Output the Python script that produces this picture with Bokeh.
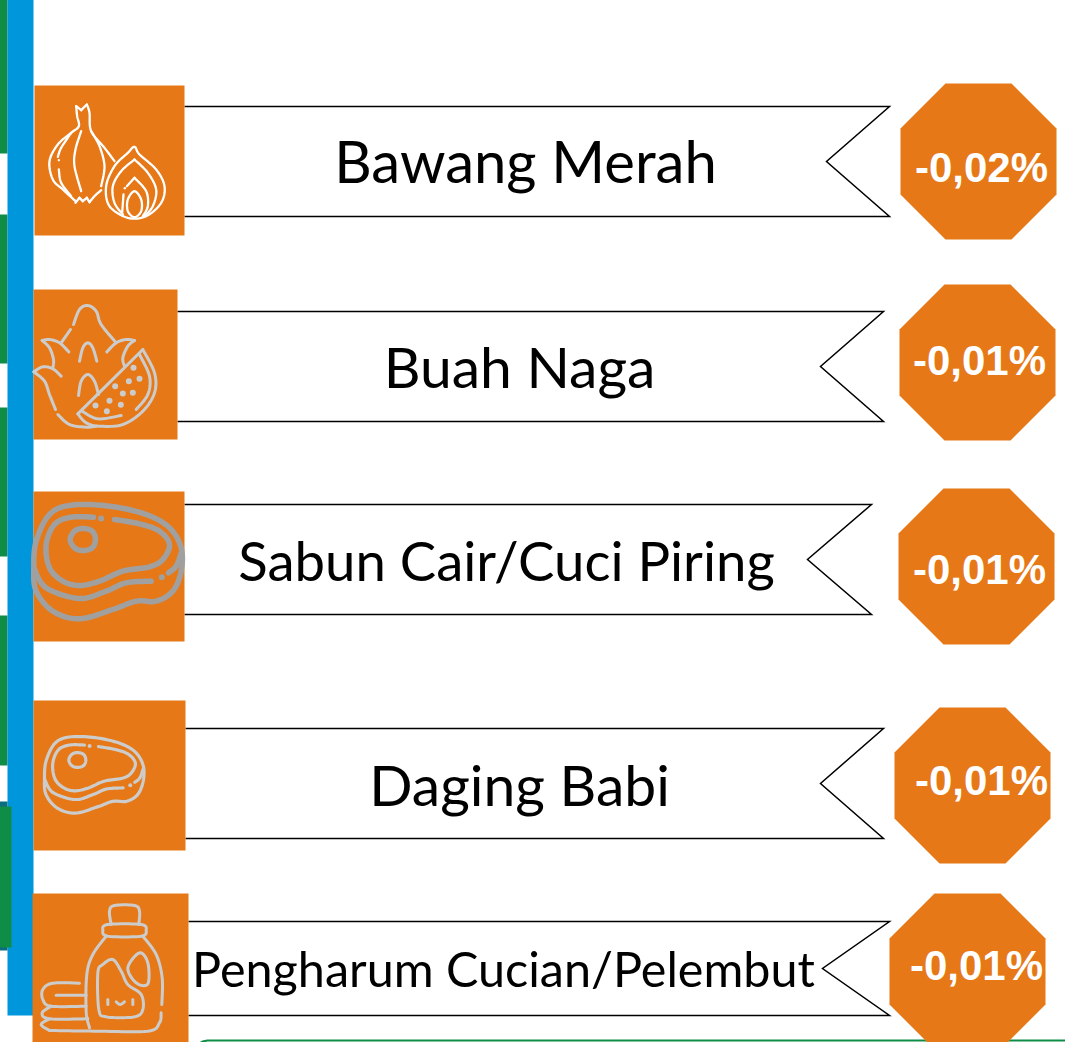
from bokeh.plotting import figure
from bokeh.embed import file_html
from bokeh.resources import INLINE
from bokeh.core.properties import value

categories = ["Bawang Merah", "Buah Naga", "Sabun Cair/Cuci Piring", "Daging Babi", "Pengharum Cucian/Pelembut"]
percent_labels = ["-0,02%", "-0,01%", "-0,01%", "-0,01%", "-0,01%"]

ORANGE = "#E67817"
BLUE = "#0096DC"
GREEN = "#0F8C46"
TEAL = "#0B6E7E"

W, H = 1066, 1043
p = figure(width=W, height=H, x_range=(0, W), y_range=(H, 0), output_backend="svg",
           toolbar_location=None, min_border=0, outline_line_color=None,
           background_fill_color="white", border_fill_color="white")
p.margin = (-1, -1, -1, -1)
p.axis.visible = False
p.grid.visible = False


def rect(x0, y0, x1, y1, c):
    p.quad(left=x0, right=x1, top=y0, bottom=y1, fill_color=c, line_color=None)


def smooth(pts, n=10):
    if len(pts) < 3:
        return [q[0] for q in pts], [q[1] for q in pts]
    closed = pts[0] == pts[-1]
    P = ([pts[-2]] + pts + [pts[1]]) if closed else ([pts[0]] + pts + [pts[-1]])
    xs, ys = [], []
    for i in range(1, len(P) - 2):
        a, b, c, d = P[i - 1], P[i], P[i + 1], P[i + 2]
        for k in range(n):
            t = k / n
            f = lambda u: 0.5 * (2 * b[u] + (c[u] - a[u]) * t + (2 * a[u] - 5 * b[u] + 4 * c[u] - d[u]) * t * t
                                 + (3 * b[u] - a[u] - 3 * c[u] + d[u]) * t ** 3)
            xs.append(f(0))
            ys.append(f(1))
    xs.append(pts[-1][0])
    ys.append(pts[-1][1])
    return xs, ys


def icon(paths, dots, ox, oy, s, sx, sy, color, lw, dot_r):
    """paths are given in crop-pixel units of the icon sketch"""
    X, Y = [], []
    for path in paths:
        xs, ys = smooth(path)
        X.append([ox + (x - sx) * s for x in xs])
        Y.append([oy + (y - sy) * s for y in ys])
    p.multi_line(X, Y, line_color=color, line_width=lw, line_cap="round", line_join="round")
    if dots:
        p.circle([ox + (d[0] - sx) * s for d in dots], [oy + (d[1] - sy) * s for d in dots],
                 radius=dot_r, fill_color=color, line_color=None)


# left strips
for y0, y1 in [(0, 154), (215, 364), (408, 557), (616, 766)]:
    rect(0, y0, 8, y1, GREEN)
rect(8, 0, 34, 1016, BLUE)
rect(0, 802, 8, 951, TEAL)
rect(0, 807, 12, 948, GREEN)

# green frame at the foot
p.line([200, 203, 208, 215, 1066], [1044, 1042, 1041, 1041, 1041], line_color=GREEN, line_width=2)

# ribbons
ribbon_x0 = [185, 178, 185, 186, 189]
ribbon_x1 = [890, 884, 872, 884, 890]
ribbon_notch = [827, 821, 808, 821, 823]
ribbon_top = [107, 312, 505, 729, 922]
ribbon_bot = [217, 422, 615, 839, 1016]
for x0, x1, n, t, b in zip(ribbon_x0, ribbon_x1, ribbon_notch, ribbon_top, ribbon_bot):
    p.patch([x0, x1, n, x1, x0], [t, t, (t + b) / 2, b, b], fill_color="white", line_color=None)
    p.line([x0, x1, n, x1, x0], [t, t, (t + b) / 2, b, b], line_color="black", line_width=1.5, line_join="miter")

# icon boxes
box_x0 = [35, 34, 34, 34, 33]
box_x1 = [185, 178, 185, 186, 189]
box_y0 = [86, 290, 492, 701, 894]
box_y1 = [236, 440, 642, 851, 1044]
for a, b, c, d in zip(box_x0, box_x1, box_y0, box_y1):
    rect(a, c, b, d, ORANGE)

# onion
onion = [
    [(230, 110), (233, 140), (238, 170), (215, 190), (175, 225), (150, 275), (160, 330), (190, 360), (228, 395)],
    [(230, 110), (245, 122)], [(245, 122), (262, 105)], [(262, 105), (270, 130), (275, 185), (315, 235), (345, 275)],
    [(275, 185), (300, 230), (315, 290), (305, 350)],
    [(228, 400), (240, 385)], [(240, 385), (250, 395)], [(250, 395), (262, 385)], [(262, 385), (270, 398)],
    [(270, 398), (285, 380), (305, 362)],
    [(215, 190), (185, 235), (175, 262)], [(178, 300), (185, 340), (215, 380)],
    [(245, 185), (228, 240), (225, 290), (245, 365)],
    [(405, 232), (385, 250), (345, 290), (320, 350), (330, 410), (385, 445), (440, 440), (485, 400), (495, 350),
     (470, 300), (420, 255), (405, 232)],
    [(405, 270), (365, 305), (340, 350), (345, 400), (370, 435)],
    [(405, 270), (445, 310), (470, 360), (460, 410), (435, 440)],
    [(405, 325), (382, 350)], [(405, 325), (440, 365), (445, 410), (430, 440)],
    [(372, 375), (368, 430)],
    [(405, 365), (385, 390), (385, 425), (405, 443), (425, 425), (425, 390), (405, 365)],
]
icon(onion, [(178, 272), (376, 356)], 0, 70, 1 / 3, 0, 0, "#FFFFFF", 2.3, 1.2)

# dragon fruit
fruit = [
    [(185, 190), (213, 150)],
    [(222, 135), (240, 90), (265, 78), (290, 95), (305, 135), (350, 190)],
    [(322, 217), (350, 190), (380, 180), (405, 183)], [(405, 183), (385, 200), (370, 235), (375, 260)],
    [(208, 217), (180, 190), (150, 180), (128, 183)], [(128, 183), (150, 205), (162, 240), (160, 265)],
    [(185, 290), (160, 268), (130, 262), (103, 277)], [(103, 277), (135, 305), (150, 345), (168, 390)],
    [(175, 405), (210, 435), (260, 443), (290, 440)],
    [(240, 245), (250, 205), (265, 190), (280, 205), (292, 245)],
    [(237, 348), (245, 305), (265, 285), (285, 305), (297, 345)],
    [(235, 403), (430, 210)],
    [(430, 210), (465, 280), (465, 340), (430, 395), (370, 435), (300, 440), (260, 430), (235, 403)],
    [(420, 225), (450, 290), (445, 345), (410, 390)],
    [(365, 408), (295, 418), (248, 395)],
]
seeds = [(402, 265), (388, 305), (420, 298), (347, 320), (370, 342), (400, 340), (330, 364), (364, 376), (288, 378),
         (322, 395)]
icon(fruit, seeds, 0, 280, 1 / 3, 0, 0, "#CCCCCC", 3, 3)

# steak outline shared by two icons
steak = [
    [(103, 250), (110, 170), (150, 90), (215, 62), (330, 65), (440, 90), (510, 130), (545, 190), (545, 260), (520, 320),
     (470, 350), (410, 350), (340, 375), (240, 403), (160, 380), (110, 320), (103, 250)],
    [(103, 250), (140, 310), (240, 342), (320, 320), (380, 295), (455, 290)],
    [(282, 98), (215, 98), (165, 120), (140, 180), (150, 250), (190, 290), (240, 303), (300, 290), (370, 260),
     (450, 247), (490, 225), (510, 180), (480, 140), (420, 118), (345, 105)],
    [(507, 265), (530, 245), (545, 205)],
    [(212, 165), (225, 140), (250, 132), (278, 140), (288, 165), (278, 190), (250, 198), (225, 190), (212, 165)],
]
steak_dots = [(305, 102), (487, 278)]
icon(steak, steak_dots, 0, 485, 1 / 3, 0, 0, "#A0A0A0", 5.5, 3)
icon(steak, steak_dots, 45, 737.5, 0.2233, 103, 62, "#CCCCCC", 3.2, 2)

# detergent bottle
bottle = [
    [(335, 120), (330, 80), (345, 63), (405, 63), (420, 80), (418, 120)],
    [(325, 120), (425, 120), (440, 137), (425, 155), (325, 155), (310, 137), (325, 120)],
    [(320, 155), (280, 210), (262, 270), (260, 380), (270, 430)],
    [(430, 155), (470, 210), (488, 280), (487, 360)],
    [(485, 385), (480, 415), (445, 440), (285, 440), (150, 438)],
    [(240, 296), (160, 296), (130, 315), (130, 345), (155, 365), (260, 365)],
    [(170, 332), (260, 332)],
    [(155, 365), (128, 385), (150, 403), (265, 403)],
    [(150, 403), (125, 420), (150, 438)],
    [(310, 240), (340, 225), (365, 260), (385, 300), (425, 330), (430, 375), (405, 397), (320, 397), (298, 375),
     (295, 265), (310, 240)],
    [(420, 205), (385, 250), (410, 295), (445, 298), (445, 235), (420, 205)],
    [(325, 345), (325, 360)], [(400, 345), (400, 360)], [(350, 352), (362, 360), (375, 352)],
]
icon(bottle, [], 0, 885, 1 / 3, 0, 0, "#CCCCCC", 3, 2)

# octagons
oct_x0 = [901, 900, 899, 895, 890]
oct_y0 = [84, 285, 489, 708, 894]
OCT = 156
CUT = 45
for x, y in zip(oct_x0, oct_y0):
    p.patch([x + CUT, x + OCT - CUT, x + OCT, x + OCT, x + OCT - CUT, x + CUT, x, x],
            [y, y, y + CUT, y + OCT - CUT, y + OCT, y + OCT, y + OCT - CUT, y + CUT],
            fill_color=ORANGE, line_color=None)

# texts
label_x = [526, 520, 507, 520, 504]
label_y = [161, 366, 560, 784, 968]
label_size = ["58px", "57px", "54.5px", "57px", "48.5px"]
for t, x, y, s in zip(categories, label_x, label_y, label_size):
    p.text([x], [y], text=[t], text_font=value("Lato"), text_font_size=s, text_color="black",
           text_align="center", text_baseline="middle")

pct_x = [982, 980, 980, 982, 977]
pct_y = [168, 361, 570, 781, 966]
for t, x, y in zip(percent_labels, pct_x, pct_y):
    p.text([x], [y], text=[t], text_font=value("Liberation Sans"), text_font_size="42px", text_font_style="bold",
           text_color="white", text_align="center", text_baseline="middle")

open("out.html", "w").write(file_html(p, INLINE))
